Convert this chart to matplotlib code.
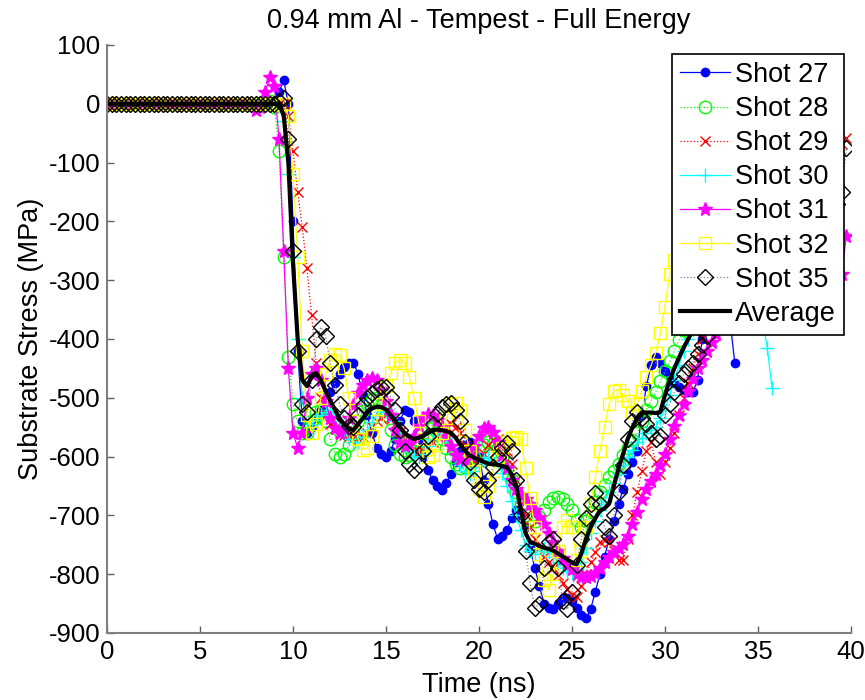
import numpy as np
import matplotlib
matplotlib.use('Agg')
from matplotlib import pyplot as plt

plt.rcParams['font.family'] = ['Liberation Sans', 'DejaVu Sans']
plt.rcParams['axes.unicode_minus'] = False

# sampling step of the read-off values (ns), every series starts at t = 0
t_step = 0.25

# 0 .. 7.75 ns: all shots sit on zero before the shock arrives
pre_trigger = [0, 0, 0, 0, 0, 0, 0, 0, 0, 0, 0, 0, 0, 0, 0, 0,
               0, 0, 0, 0, 0, 0, 0, 0, 0, 0, 0, 0, 0, 0, 0, 0]

# from 8.0 ns on, four values per ns
shot27 = pre_trigger + [
    0, 0, 0, 2, 5, 20, 40, 0, -200, -420, -540, -560,
    -550, -535, -520, -505, -490, -475, -460, -448, -440, -440, -460, -495,
    -530, -560, -585, -595, -600, -590, -570, -540, -520, -525, -540, -570,
    -600, -622, -640, -650, -656, -645, -630, -610, -590, -580, -575, -585,
    -600, -640, -680, -715, -740, -735, -725, -705, -690, -700, -720, -755,
    -790, -820, -850, -858, -860, -850, -840, -840, -845, -858, -870, -875,
    -860, -830, -800, -770, -740, -710, -680, -655, -630, -610, -590, -530,
    -480, -445, -430, -440, -455, -465, -475, -482, -486, -490, -490, -470,
    -400, -370, -360, -360, -365, -375, -370, -440]

shot28 = pre_trigger + [
    0, 0, 0, 5, -5, -80, -260, -430, -510, -540, -560, -560,
    -540, -525, -520, -540, -570, -595, -600, -595, -580, -560, -540, -522,
    -510, -502, -500, -510, -530, -555, -580, -595, -600, -598, -590, -575,
    -560, -552, -550, -558, -570, -585, -600, -612, -620, -618, -610, -600,
    -590, -580, -575, -578, -585, -600, -620, -640, -660, -680, -700, -708,
    -710, -702, -690, -678, -670, -668, -672, -680, -690, -708, -719, -710,
    -695, -678, -660, -648, -635, -624, -612, -598, -585, -572, -560, -540,
    -520, -505, -490, -472, -455, -438, -420, -402, -385, -368, -350, -335,
    -320, -305, -290, -275, -260, -250, -240, -230, -220]

shot29 = pre_trigger + [
    0, 0, 0, 0, 0, 0, 0, -20, -80, -150, -210, -280,
    -360, -440, -500, -530, -545, -552, -560, -563, -565, -568, -570, -566,
    -560, -550, -540, -534, -530, -536, -545, -558, -570, -582, -590, -592,
    -590, -583, -575, -565, -555, -548, -545, -550, -560, -580, -600, -608,
    -610, -595, -580, -572, -570, -578, -590, -612, -640, -670, -700, -720,
    -740, -755, -770, -780, -790, -802, -815, -826, -835, -838, -820, -800,
    -780, -762, -745, -742, -745, -760, -775, -775, -740, -700, -660, -625,
    -590, -575, -610, -630, -610, -585, -560, -530, -500, -475, -450, -425,
    -400, -380, -360, -345, -330, -318, -305, -292, -280, -268, -256, -244,
    -232, -220, -208, -196, -185, -174, -163, -152, -142, -132, -122, -113,
    -105, -98, -91, -85, -79, -73, -68, -58]

shot30 = pre_trigger + [
    0, 0, 0, 0, 0, 0, -30, -120, -260, -400, -500, -540,
    -545, -538, -530, -525, -520, -528, -540, -555, -570, -575, -575, -566,
    -555, -542, -530, -524, -520, -528, -540, -558, -575, -590, -600, -600,
    -595, -582, -570, -563, -560, -568, -580, -598, -615, -625, -630, -624,
    -615, -606, -600, -603, -610, -628, -650, -675, -700, -725, -750, -760,
    -765, -760, -755, -762, -770, -780, -790, -795, -798, -792, -780, -755,
    -730, -710, -690, -675, -660, -645, -630, -615, -600, -588, -575, -568,
    -560, -555, -550, -535, -520, -495, -470, -445, -420, -400, -385, -375,
    -370, -365, -360, -355, -350, -348, -346, -345, -345, -346, -348, -350,
    -355, -370, -415, -483]

shot31 = pre_trigger + [
    -10, -5, 20, 45, 30, -60, -250, -450, -560, -585, -560, -500,
    -460, -450, -470, -505, -535, -552, -560, -552, -535, -512, -492, -478,
    -470, -466, -469, -485, -505, -530, -555, -575, -582, -578, -565, -548,
    -535, -528, -530, -537, -548, -565, -582, -597, -604, -605, -598, -582,
    -565, -552, -549, -558, -575, -598, -620, -640, -655, -665, -672, -680,
    -690, -702, -715, -730, -745, -760, -772, -783, -792, -800, -805, -805,
    -803, -798, -790, -780, -770, -762, -755, -748, -735, -715, -695, -672,
    -655, -642, -630, -615, -595, -570, -548, -530, -510, -488, -468, -450,
    -435, -420, -405, -392, -380, -372, -365, -360, -355, -350, -345, -340,
    -336, -332, -328, -325, -322, -320, -318, -316, -314, -312, -310, -308,
    -306, -304, -302, -300, -298, -295, -290, -225]

shot32 = pre_trigger + [
    0, 0, 0, 0, 0, 0, 0, -20, -120, -260, -420, -530,
    -560, -545, -500, -460, -435, -425, -428, -450, -500, -540, -570, -588,
    -585, -565, -540, -510, -480, -458, -440, -435, -440, -465, -500, -540,
    -570, -600, -598, -580, -560, -535, -510, -508, -520, -555, -590, -625,
    -655, -668, -650, -625, -600, -585, -575, -568, -566, -570, -620, -670,
    -720, -765, -810, -827, -800, -760, -720, -707, -720, -776, -760, -720,
    -680, -635, -590, -550, -510, -488, -486, -495, -505, -525, -510, -488,
    -465, -445, -423, -390, -345, -290, -265, -248, -235, -222, -210, -198,
    -185, -175, -165, -156, -148]

shot35 = pre_trigger + [
    0, 0, 0, 0, 0, 5, 10, -60, -250, -420, -510, -525,
    -470, -400, -380, -395, -440, -478, -510, -535, -548, -550, -530, -512,
    -500, -492, -485, -481, -481, -498, -520, -555, -590, -612, -622, -615,
    -590, -565, -545, -528, -515, -510, -508, -520, -540, -575, -610, -640,
    -655, -660, -640, -618, -600, -585, -577, -590, -640, -700, -760, -815,
    -858, -850, -790, -745, -740, -790, -845, -860, -830, -785, -740, -705,
    -680, -662, -680, -720, -735, -700, -660, -615, -570, -540, -525, -535,
    -545, -560, -570, -565, -530, -510, -490, -475, -460, -450, -440, -425,
    -410, -395, -380, -368, -356, -345, -334, -323, -312, -302, -292, -282,
    -272, -262, -252, -243, -234, -225, -216, -208, -200, -195, -190, -186,
    -183, -180, -178, -176, -174, -170, -150, -75]

average = pre_trigger + [
    0, 0, 0, 0, 0, 0, -20, -100, -270, -400, -470, -480,
    -465, -458, -470, -488, -505, -520, -535, -545, -552, -555, -545, -535,
    -525, -518, -515, -516, -520, -530, -540, -550, -560, -566, -570, -568,
    -565, -560, -555, -554, -555, -557, -560, -568, -580, -590, -598, -602,
    -605, -609, -612, -613, -614, -616, -618, -630, -650, -690, -730, -745,
    -748, -752, -755, -757, -760, -765, -770, -775, -780, -783, -765, -740,
    -720, -705, -692, -688, -680, -650, -620, -595, -570, -550, -535, -525,
    -525, -525, -526, -524, -495, -470, -450, -432, -415, -400, -385, -372,
    -360, -350, -340, -332, -325, -318, -312]

labels = ['Shot 27', 'Shot 28', 'Shot 29', 'Shot 30', 'Shot 31', 'Shot 32', 'Shot 35']
series = [shot27, shot28, shot29, shot30, shot31, shot32, shot35]
styles = [
    dict(color='#0000ff', ls='-', marker='.', ms=12),
    dict(color='#00ff00', ls=':', marker='o', ms=9, mfc='none'),
    dict(color='#ff0000', ls=':', marker='x', ms=7),
    dict(color='#00ffff', ls='-', marker='+', ms=10),
    dict(color='#ff00ff', ls='-', marker='*', ms=10),
    dict(color='#ffff00', ls='-', marker='s', ms=9, mfc='none'),
    dict(color='#808080', ls=':', marker='D', ms=8, mfc='none', mec='k'),
]

fig = plt.figure(figsize=(8.65, 7.0), dpi=100)
ax = fig.add_axes([107 / 865, 67 / 700, 744 / 865, 588 / 700])

for vals, lab, st in zip(series, labels, styles):
    t = np.arange(len(vals)) * t_step
    ax.plot(t, vals, label=lab, lw=0.9, mew=1.0, **st)

t = np.arange(len(average)) * t_step
ax.plot(t, average, color='k', lw=3, label='Average')

ax.set_xlim(0, 40)
ax.set_ylim(-900, 100)
ax.set_xticks(np.arange(0, 41, 5))
ax.set_yticks(np.arange(-900, 101, 100))

for side in ['top', 'right']:
    ax.spines[side].set_visible(False)
for side in ['left', 'bottom']:
    ax.spines[side].set_color('#808080')
    ax.spines[side].set_linewidth(1.5)
ax.tick_params(direction='in', length=5, width=1, color='#606060',
               labelsize=18.5, pad=5)

ax.set_title('0.94 mm Al - Tempest - Full Energy', fontsize=19.5, pad=12)
ax.set_xlabel('Time (ns)', fontsize=19.5, labelpad=6)
ax.set_ylabel('Substrate Stress (MPa)', fontsize=19.5, labelpad=3)

leg = ax.legend(loc='upper right', bbox_to_anchor=(0.991, 0.985),
                borderaxespad=0, fontsize=19.5, numpoints=1,
                fancybox=False, framealpha=1, edgecolor='k',
                borderpad=0.3, labelspacing=0.3, handlelength=1.85,
                handletextpad=0.2)
leg.get_frame().set_linewidth(1.2)
leg.set_zorder(10)

fig.savefig('out.png', dpi=100)
